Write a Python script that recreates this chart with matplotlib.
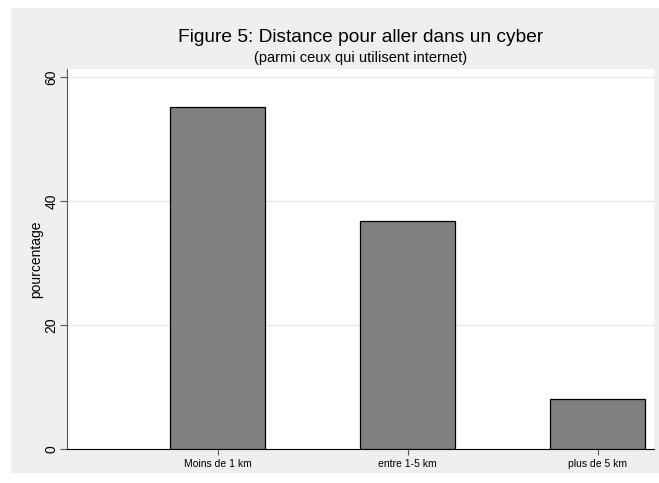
import numpy as np
import matplotlib
matplotlib.use('Agg')
import matplotlib.pyplot as plt

# data
categories = ['Moins de 1 km', 'entre 1-5 km', 'plus de 5 km']
values = [55.1, 36.8, 8.0]
yticks = [0, 20, 40, 60]

plt.rcParams['font.family'] = ['Liberation Sans', 'DejaVu Sans']

fig = plt.figure(figsize=(6.59, 4.83), dpi=100)
fig.patch.set_facecolor('white')

# grey graph region (stata style), as a background axes
bg = fig.add_axes([11/659, 1-473/483, 1-11/659, 465/483], zorder=-1)
bg.set_axis_off()
bg.add_patch(plt.Rectangle((0, 0), 1, 1, transform=bg.transAxes, facecolor='#efefef', edgecolor='none'))

ax = fig.add_axes([67/659, 1-449/483, (654-67)/659, (449-69)/483], zorder=1)
ax.set_facecolor('white')

x = np.arange(1, len(categories)+1)
ax.bar(x, values, width=0.5, color='#808080', edgecolor='black', linewidth=0.9, zorder=3)

ax.set_xlim(0.208, 3.297)
ax.set_ylim(0, 61.3)
ax.set_yticks(yticks)
ax.set_yticklabels([str(v) for v in yticks], rotation=90, va='center', fontsize=10)
ax.set_xticks(x)
ax.set_xticklabels(categories, fontsize=7.5)

for v in yticks[1:]:
	ax.axhline(v, color='#e8e8e8', linewidth=1, zorder=1)

ax.spines['top'].set_visible(False)
ax.spines['right'].set_visible(False)
ax.spines['left'].set_color('#555555')
ax.spines['bottom'].set_color('black')
ax.tick_params(axis='y', length=5, width=0.8, color='#555555', pad=1)
ax.tick_params(axis='x', length=4, width=0.8, color='#555555', pad=3)

ax.set_ylabel('pourcentage', fontsize=10)
ax.yaxis.set_label_coords(-0.040, 0.5)

fig.text(361/659, 1-37/483, 'Figure 5: Distance pour aller dans un cyber', ha='center', va='center', fontsize=13.8)
fig.text(361/659, 1-58/483, '(parmi ceux qui utilisent internet)', ha='center', va='center', fontsize=10.5)

fig.savefig('out.png', dpi=100)
